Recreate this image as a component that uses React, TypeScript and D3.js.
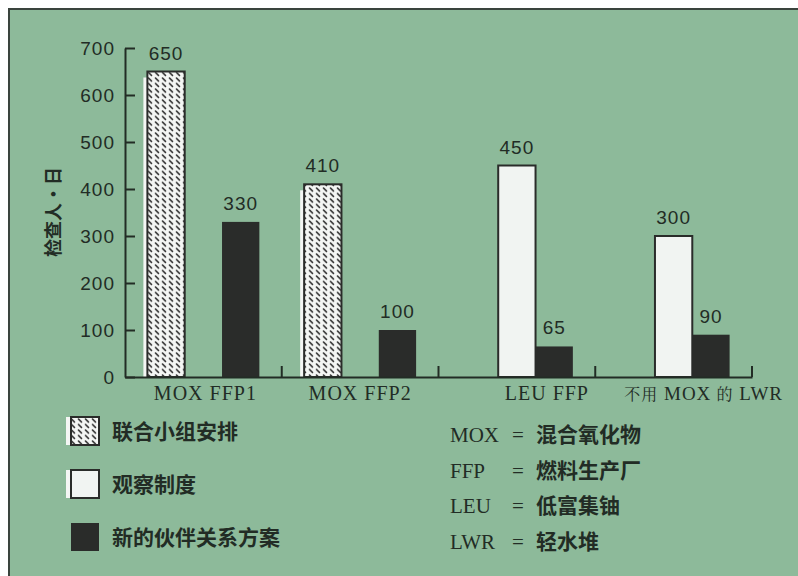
import React, { useEffect, useRef } from "react";
import * as d3 from "d3";

// categories and series
const categories = ["MOX FFP1", "MOX FFP2", "LEU FFP", "不用 MOX 的 LWR"];
const seriesNames = ["联合小组安排", "观察制度", "新的伙伴关系方案"];

// values per series (null = no bar)
const jointTeam = [650, 410, null, null];
const observation = [null, null, 450, 300];
const partnership = [330, 100, 65, 90];

const yTicks = [0, 100, 200, 300, 400, 500, 600, 700];

const abbrevKeys = ["MOX", "FFP", "LEU", "LWR"];
const abbrevText = ["混合氧化物", "燃料生产厂", "低富集铀", "轻水堆"];

const BG = "#8dba9a";
const INK = "#222c25";
const DARK = "#2a2c2a";

const isCJK = (s: string) => /[\u4e00-\u9fff]/.test(s);

const App = () => {
  const svgRef = useRef<SVGSVGElement>(null);

  useEffect(() => {
    const width = 798;
    const height = 576;
    const left = 125;
    const right = 752;
    const bottom = 377;
    const top = 48;

    const root = d3.select(svgRef.current);
    root.selectAll("*").remove();
    const svg = root.attr("width", width).attr("height", height);

    // hatch pattern
    const defs = svg.append("defs");
    const pat = defs
      .append("pattern")
      .attr("id", "hatch")
      .attr("patternUnits", "userSpaceOnUse")
      .attr("width", 7)
      .attr("height", 5.5);
    pat.append("rect").attr("width", 7).attr("height", 5.5).attr("fill", "#f4f6f4");
    pat
      .append("line")
      .attr("x1", 1.5)
      .attr("y1", 1)
      .attr("x2", 4.5)
      .attr("y2", 4)
      .attr("stroke", "#333")
      .attr("stroke-width", 1.6)
      .attr("stroke-linecap", "round");

    // panel
    svg
      .append("rect")
      .attr("x", 9)
      .attr("y", 9)
      .attr("width", width + 10)
      .attr("height", height + 10)
      .attr("fill", BG)
      .attr("stroke", "#3a443d")
      .attr("stroke-width", 2);

    const x0 = d3.scaleBand<string>().domain(categories).range([left, right]).padding(0);
    const x1 = d3
      .scaleBand<string>()
      .domain(seriesNames)
      .range([0, x0.bandwidth()])
      .paddingInner(0)
      .paddingOuter(0.6);
    const y = d3.scaleLinear().domain([0, 700]).range([bottom, top]);

    const fills = ["url(#hatch)", "#f1f4f2", DARK];
    const seriesValues = [jointTeam, observation, partnership];

    // bars
    seriesValues.forEach((vals, si) => {
      const g = svg.append("g");
      categories.forEach((c, ci) => {
        const v = vals[ci];
        if (v == null) return;
        const bx = x0(c)! + x1(seriesNames[si])!;
        const bw = x1.bandwidth();
        if (si === 0) {
          // misregistered white edge seen in print
          g.append("rect")
            .attr("x", bx - 4)
            .attr("y", y(v) + 6)
            .attr("width", 6)
            .attr("height", bottom - y(v) - 6)
            .attr("fill", "#f4f6f4");
        }
        g.append("rect")
          .attr("x", bx)
          .attr("y", y(v))
          .attr("width", bw)
          .attr("height", bottom - y(v))
          .attr("fill", fills[si])
          .attr("stroke", si === 2 ? "none" : DARK)
          .attr("stroke-width", 2);
        g.append("text")
          .attr("x", bx + bw / 2)
          .attr("y", y(v) - 12)
          .attr("text-anchor", "middle")
          .attr("font-family", "'Liberation Sans', Arial, sans-serif")
          .attr("font-size", 19)
          .attr("letter-spacing", 1)
          .attr("fill", INK)
          .text(v);
      });
    });

    // y axis
    const yAxis = svg
      .append("g")
      .attr("transform", `translate(${left},0)`)
      .call(d3.axisLeft(y).tickValues(yTicks).tickSize(-10).tickSizeOuter(0).tickPadding(10));
    yAxis.select(".domain").attr("stroke", INK).attr("stroke-width", 2);
    yAxis.selectAll(".tick line").attr("stroke", INK).attr("stroke-width", 2);
    yAxis
      .selectAll(".tick text")
      .attr("fill", INK)
      .attr("font-family", "'Liberation Sans', Arial, sans-serif")
      .attr("font-size", 19)
      .attr("letter-spacing", 1);

    // x axis line
    const xAxis = svg
      .append("g")
      .attr("transform", `translate(0,${bottom})`)
      .call(d3.axisBottom(x0).tickSize(0).tickSizeOuter(0).tickFormat(() => ""));
    xAxis.select(".domain").attr("stroke", INK).attr("stroke-width", 2);

    // category labels (the two right-hand ones sit a little right of their band centre)
    const labelShift = [2, 0, 30, 30];
    categories.forEach((c, i) => {
      const t = svg
        .append("text")
        .attr("x", x0(c)! + x0.bandwidth() / 2 + labelShift[i])
        .attr("y", bottom + 23)
        .attr("text-anchor", "middle")
        .attr("font-family", "'Liberation Serif', serif")
        .attr("font-size", i === 3 ? 19 : 20)
        .attr("letter-spacing", 1)
        .attr("fill", INK);
      c.split(" ").forEach((part, j) => {
        t.append("tspan")
          .attr("font-family", isCJK(part) ? "'Noto Serif CJK SC', 'Noto Sans CJK SC', serif" : null)
          .attr("font-size", isCJK(part) ? 16 : null)
          .text((j > 0 ? " " : "") + part);
      });
    });

    // separator ticks between categories
    svg
      .append("g")
      .selectAll("line")
      .data(categories)
      .join("line")
      .attr("x1", (d) => x0(d)! + x0.bandwidth())
      .attr("x2", (d) => x0(d)! + x0.bandwidth())
      .attr("y1", bottom)
      .attr("y2", bottom - 11)
      .attr("stroke", INK)
      .attr("stroke-width", 2);

    // y title
    svg
      .append("text")
      .attr("transform", `translate(60,212) rotate(-90)`)
      .attr("text-anchor", "middle")
      .attr("font-family", "'Noto Sans CJK SC', sans-serif")
      .attr("font-size", 18)
      .attr("font-weight", 700)
      .attr("fill", INK)
      .text("检查人·日");

    // legend
    const legend = svg.append("g");
    seriesNames.forEach((name, i) => {
      const cy = 431 + i * 53;
      if (i !== 2) {
        legend
          .append("rect")
          .attr("x", 66)
          .attr("y", cy - 14)
          .attr("width", 6)
          .attr("height", 28)
          .attr("fill", "#f4f6f4");
      }
      legend
        .append("rect")
        .attr("x", 71)
        .attr("y", cy - 14)
        .attr("width", 28)
        .attr("height", 28)
        .attr("fill", fills[i])
        .attr("stroke", i === 2 ? "none" : DARK)
        .attr("stroke-width", 2);
      legend
        .append("text")
        .attr("x", 112)
        .attr("y", cy)
        .attr("dy", "0.36em")
        .attr("font-family", "'Noto Sans CJK SC', sans-serif")
        .attr("font-size", 21)
        .attr("font-weight", 700)
        .attr("fill", INK)
        .text(name);
    });

    // abbreviations
    const abbr = svg.append("g");
    abbrevKeys.forEach((k, i) => {
      const by = 442 + i * 35.5;
      abbr
        .append("text")
        .attr("x", 450)
        .attr("y", by)
        .attr("font-family", "'Liberation Serif', serif")
        .attr("font-size", 21)
        .attr("fill", INK)
        .text(k);
      abbr
        .append("text")
        .attr("x", 518)
        .attr("y", by)
        .attr("text-anchor", "middle")
        .attr("font-family", "'Liberation Serif', serif")
        .attr("font-size", 21)
        .attr("fill", INK)
        .text("=");
      abbr
        .append("text")
        .attr("x", 536)
        .attr("y", by)
        .attr("font-family", "'Noto Sans CJK SC', sans-serif")
        .attr("font-size", 21)
        .attr("font-weight", 700)
        .attr("fill", INK)
        .text(abbrevText[i]);
    });
  }, []);

  return <svg ref={svgRef} style={{ position: "absolute", left: 0, top: 0 }}></svg>;
};

export default App;
